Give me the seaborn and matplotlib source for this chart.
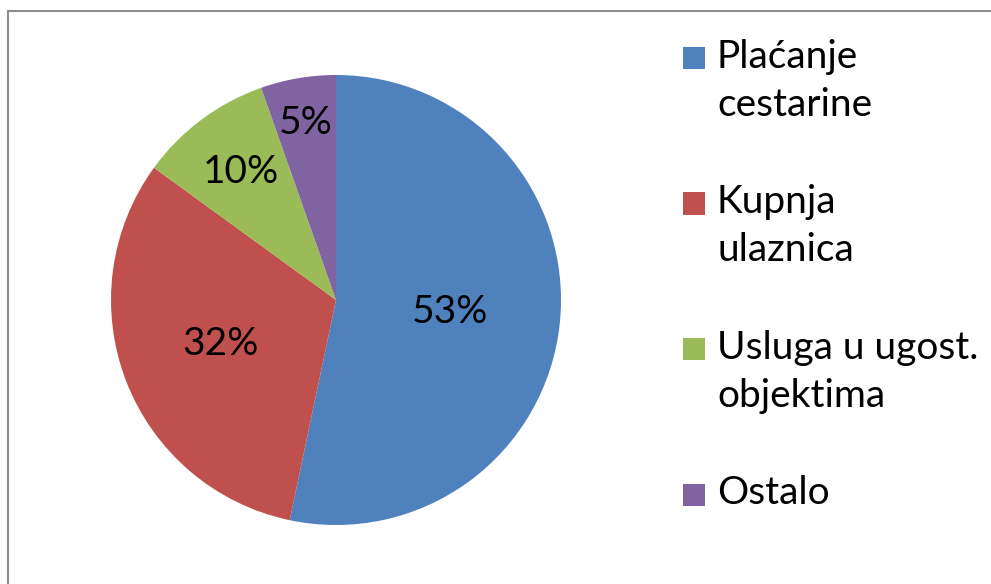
import seaborn as sns
import numpy as np
import matplotlib.pyplot as plt
from matplotlib.patches import Rectangle

categories = ['Plaćanje\ncestarine', 'Kupnja\nulaznica', 'Usluga u ugost.\nobjektima', 'Ostalo']
shares = [53.3, 31.7, 9.6, 5.4]
pct_labels = ['53%', '32%', '10%', '5%']
colors = ['#4F81BD', '#C0504D', '#9BBB59', '#8064A2']
# how far out each percent label sits (fraction of radius)
label_dist = [0.51, 0.55, 0.71, 0.80]

sns.set_theme(style='white')
plt.rcParams['font.family'] = ['Lato', 'DejaVu Sans']

W, H = 991, 584
fig = plt.figure(figsize=(W/100, H/100), dpi=100)
ax = fig.add_axes([111/W, 59/H, 450/W, 450/H])

wedges, _ = ax.pie(shares, colors=colors, startangle=90, counterclock=False,
                   radius=1, wedgeprops={'linewidth': 0})
for w, lab, d in zip(wedges, pct_labels, label_dist):
    ang = np.deg2rad((w.theta1 + w.theta2) / 2)
    ax.text(d*np.cos(ang), d*np.sin(ang), lab, ha='center', va='center',
            fontsize=28, color='black')
ax.set_xlim(-1, 1)
ax.set_ylim(-1, 1)
ax.set_aspect('equal')
ax.axis('off')

# legend drawn by hand so the swatch sits on the first text line
for i, (cat, c) in enumerate(zip(categories, colors)):
    yc = 58 + i * 145.5
    fig.patches.append(Rectangle((683/W, 1 - (yc + 11)/H), 22/W, 22/H,
                                 transform=fig.transFigure, facecolor=c, edgecolor='none'))
    fig.text(717/W, 1 - (yc - 19)/H, cat, ha='left', va='top', fontsize=28,
             linespacing=1.40, color='black')

# chart frame (only top and left edges fall inside the image)
fig.patches.append(Rectangle((8/W, -0.5), 1.0, 1.5 - 11/H, transform=fig.transFigure,
                             fill=False, edgecolor='#8c8c8c', linewidth=1.5))

fig.savefig('out.png', dpi=100)
